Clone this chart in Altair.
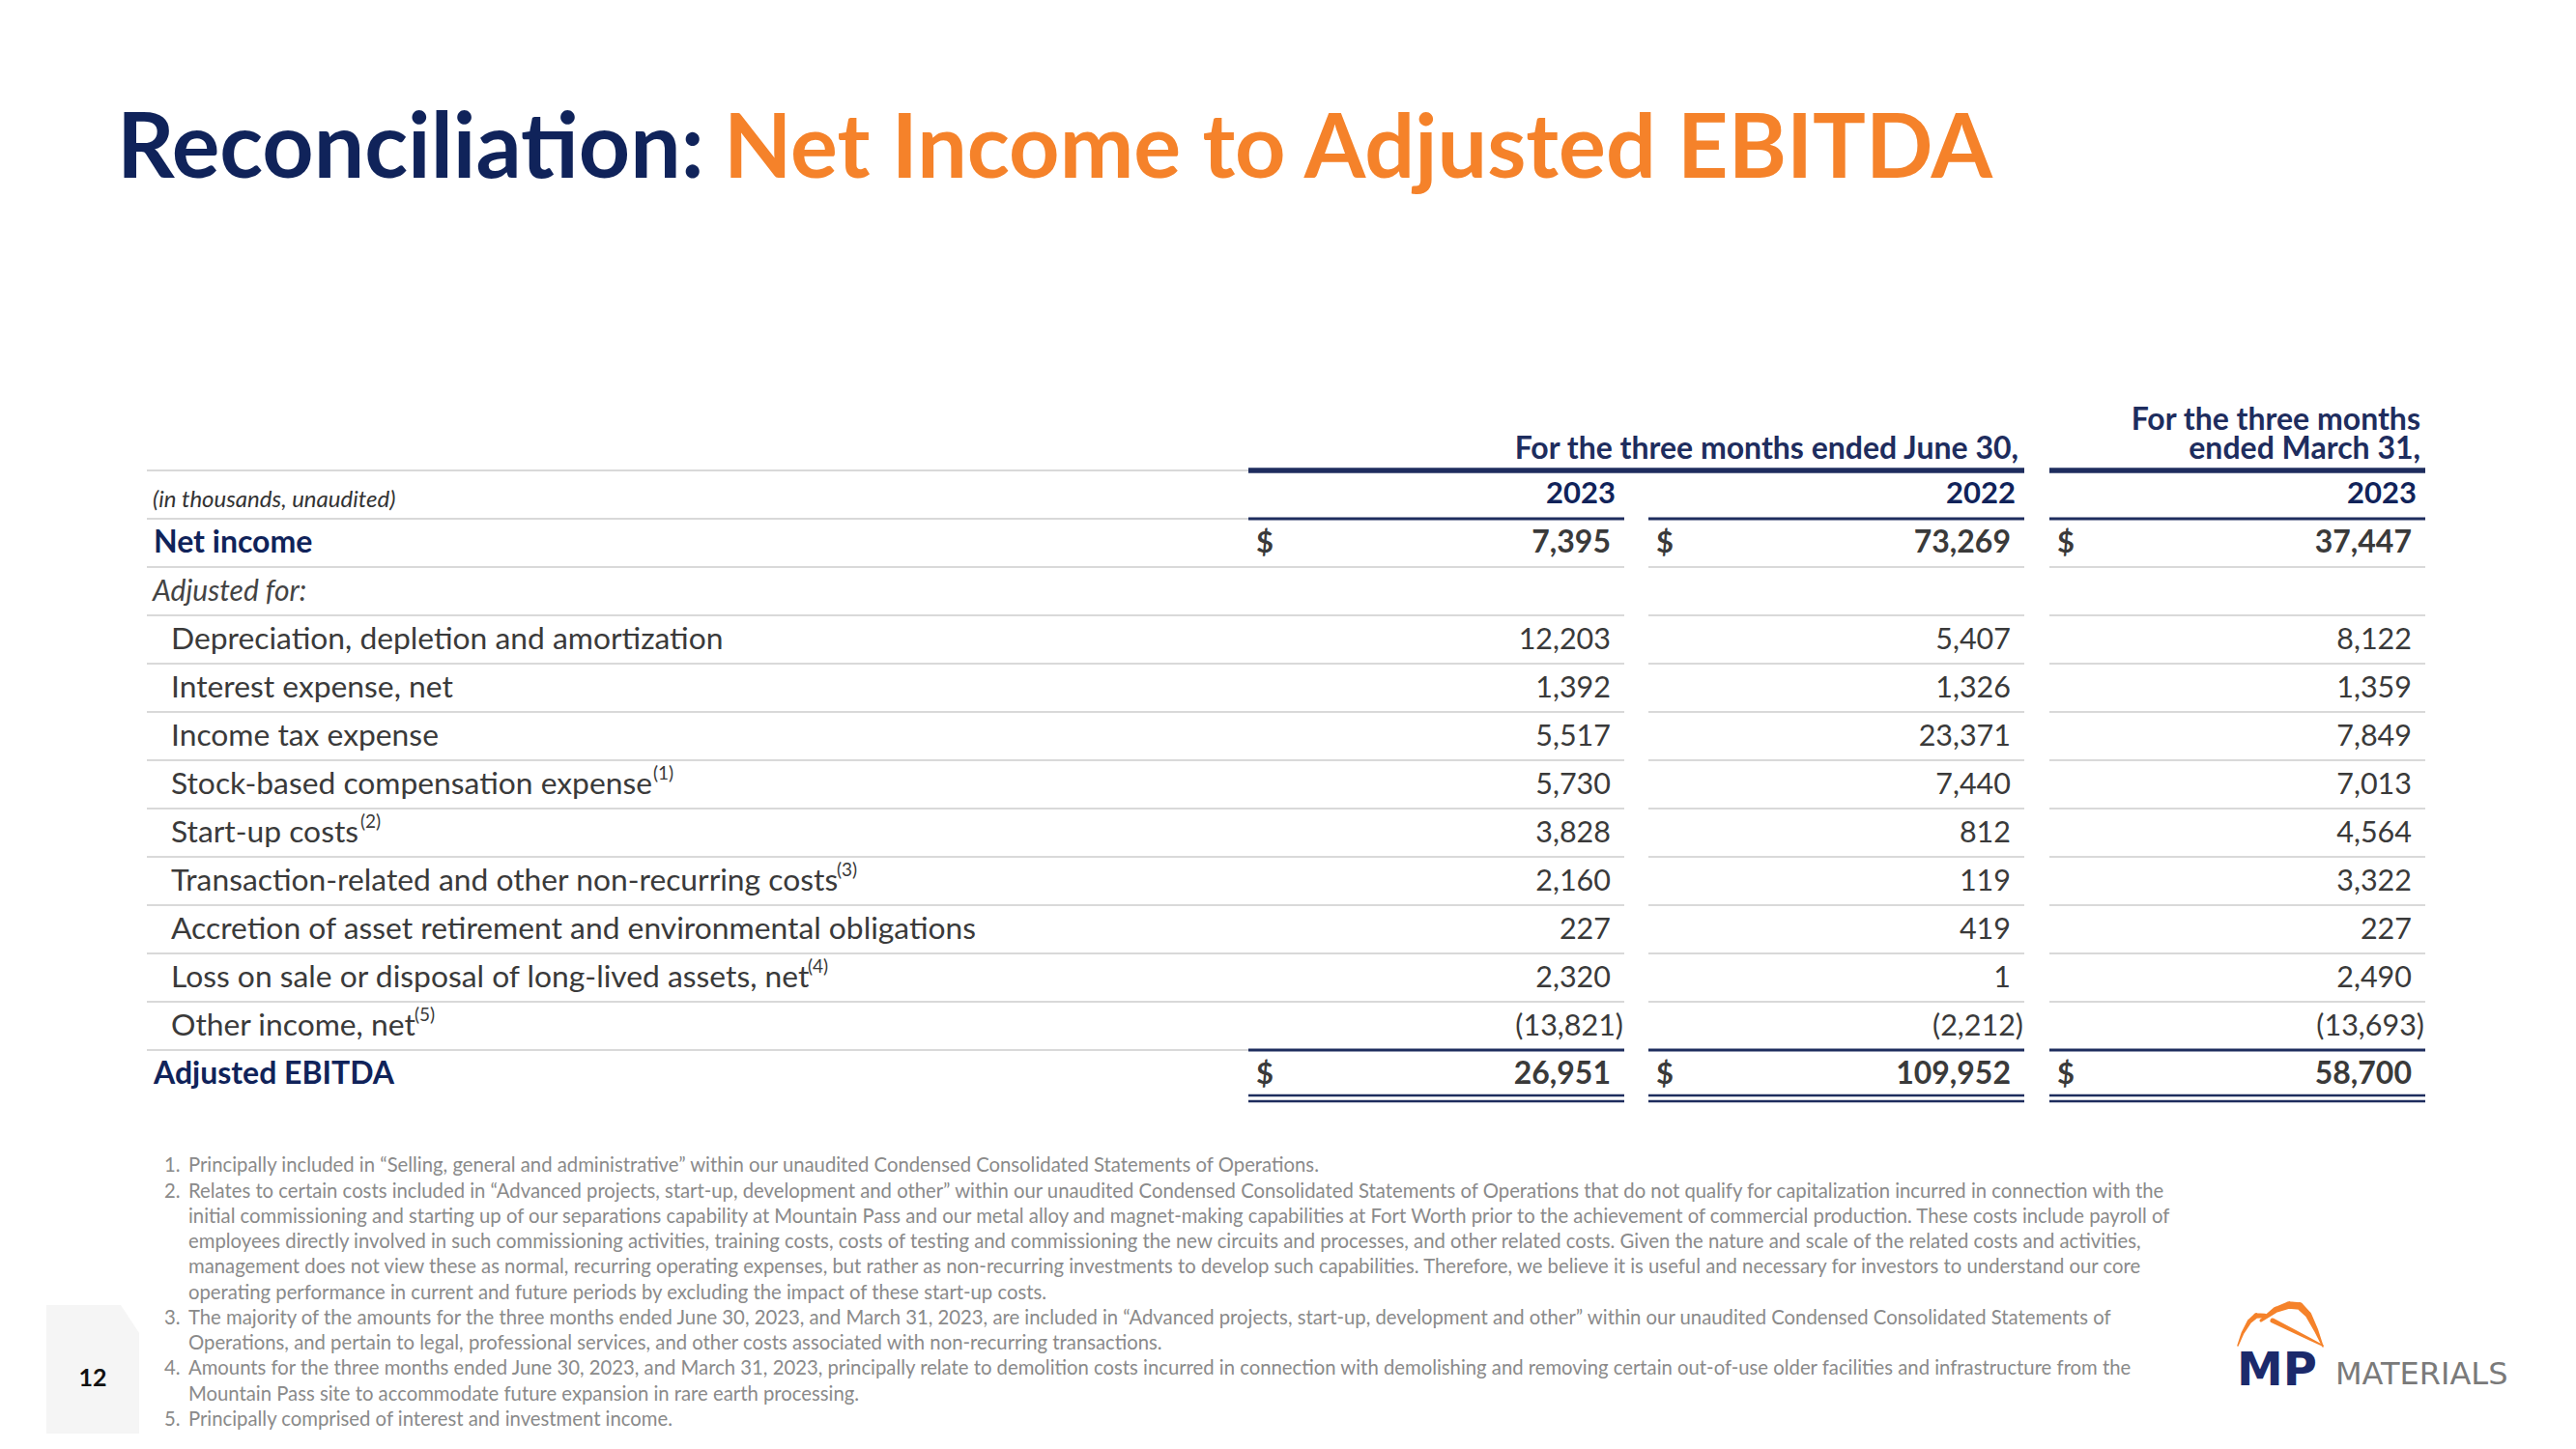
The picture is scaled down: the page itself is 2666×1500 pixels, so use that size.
import altair as alt
import pandas as pd

# ---------------- data ----------------
title_left = "Reconciliation:"
title_right = "Net Income to Adjusted EBITDA"
units_note = "(in thousands, unaudited)"
header_q2 = "For the three months ended June 30,"
header_q1 = ["For the three months", "ended March 31,"]
year_labels = ["2023", "2022", "2023"]

row_labels = [
    "Net income",
    "Adjusted for:",
    "Depreciation, depletion and amortization",
    "Interest expense, net",
    "Income tax expense",
    "Stock-based compensation expense",
    "Start-up costs",
    "Transaction-related and other non-recurring costs",
    "Accretion of asset retirement and environmental obligations",
    "Loss on sale or disposal of long-lived assets, net",
    "Other income, net",
    "Adjusted EBITDA",
]
row_notes = ["", "", "", "", "", "(1)", "(2)", "(3)", "", "(4)", "(5)", ""]
row_kinds = ["total", "section", "item", "item", "item", "item", "item",
             "item", "item", "item", "item", "total"]

q2_2023 = [7395, None, 12203, 1392, 5517, 5730, 3828, 2160, 227, 2320, -13821, 26951]
q2_2022 = [73269, None, 5407, 1326, 23371, 7440, 812, 119, 419, 1, -2212, 109952]
q1_2023 = [37447, None, 8122, 1359, 7849, 7013, 4564, 3322, 227, 2490, -13693, 58700]

footnote_marks = ["1.", "2.", "", "", "", "", "3.", "", "4.", "", "5."]
footnote_lines = [
    "Principally included in \u201cSelling, general and administrative\u201d within our unaudited Condensed Consolidated Statements of Operations.",
    "Relates to certain costs included in \u201cAdvanced projects, start-up, development and other\u201d within our unaudited Condensed Consolidated Statements of Operations that do not qualify for capitalization incurred in connection with the",
    "initial commissioning and starting up of our separations capability at Mountain Pass and our metal alloy and magnet-making capabilities at Fort Worth prior to the achievement of commercial production. These costs include payroll of",
    "employees directly involved in such commissioning activities, training costs, costs of testing and commissioning the new circuits and processes, and other related costs. Given the nature and scale of the related costs and activities,",
    "management does not view these as normal, recurring operating expenses, but rather as non-recurring investments to develop such capabilities. Therefore, we believe it is useful and necessary for investors to understand our core",
    "operating performance in current and future periods by excluding the impact of these start-up costs.",
    "The majority of the amounts for the three months ended June 30, 2023, and March 31, 2023, are included in \u201cAdvanced projects, start-up, development and other\u201d within our unaudited Condensed Consolidated Statements of",
    "Operations, and pertain to legal, professional services, and other costs associated with non-recurring transactions.",
    "Amounts for the three months ended June 30, 2023, and March 31, 2023, principally relate to demolition costs incurred in connection with demolishing and removing certain out-of-use older facilities and infrastructure from the",
    "Mountain Pass site to accommodate future expansion in rare earth processing.",
    "Principally comprised of interest and investment income.",
]
page_number = "12"
brand_mark = "MP"
brand_word = "MATERIALS"

# ---------------- layout / style ----------------
W, H = 2640, 1476
OX, OY = 8, 8
FONT = "Lato, 'DejaVu Sans', sans-serif"
NAVY = "#10235a"
HNAVY = "#1e2d5e"
ORANGE = "#f5822a"
GRAYLINE = "#d9d9d9"
BODY = "#3a3a3a"
FOOT = "#8a8a8a"

xsc = alt.Scale(domain=[OX, OX + W], nice=False, zero=False)
ysc = alt.Scale(domain=[OY, OY + H], reverse=True, nice=False, zero=False)


def pos(**extra):
    e = dict(x=alt.X("x:Q", scale=xsc, axis=None),
             y=alt.Y("y:Q", scale=ysc, axis=None))
    e.update(extra)
    return e


def text_layer(rows, font=FONT, **mark):
    df = pd.DataFrame(rows, columns=["x", "y", "t"])
    return alt.Chart(df).mark_text(baseline="alphabetic", font=font, **mark).encode(
        **pos(text="t:N"))


col_left = [1292, 1706, 2121]
col_right = [1681, 2095, 2510]
row_top0 = 537
row_h = 50
label_x = {"total": 159, "section": 158, "item": 177}
# x where each footnote superscript starts (end of the label text)
note_x = [0, 0, 0, 0, 0, 676, 373, 866, 0, 836, 429, 0]


def baseline(r):
    return row_top0 + row_h * r + 34.5


def fmt(v):
    return f"({-v:,})" if v < 0 else f"{v:,}"


layers = []

# page-number tab
tab = pd.DataFrame({"x": [48, 125, 144], "y": [1351, 1351, 1380], "y2": [OY + H] * 3})
layers.append(alt.Chart(tab).mark_area(color="#f5f5f5").encode(**pos(y2="y2:Q")))

# rules
rules = []
rules += [(152, 1292, 487, GRAYLINE, 2), (1292, 2095, 487, HNAVY, 5.5), (2121, 2510, 487, HNAVY, 5.5)]
rules += [(152, 1292, 537, GRAYLINE, 2)] + [(l, r, 537, HNAVY, 3) for l, r in zip(col_left, col_right)]
for k in range(10):
    yy = 587 + row_h * k
    rules += [(152, 1292, yy, GRAYLINE, 2)] + [(l, r, yy, GRAYLINE, 2) for l, r in zip(col_left, col_right)]
rules += [(152, 1292, 1087, GRAYLINE, 2)] + [(l, r, 1087, HNAVY, 3) for l, r in zip(col_left, col_right)]
for yy in (1134, 1140):
    rules += [(l, r, yy, HNAVY, 2.5) for l, r in zip(col_left, col_right)]
rdf = pd.DataFrame(rules, columns=["x", "x2", "y", "c", "w"])
layers.append(alt.Chart(rdf).mark_rule(strokeCap="butt").encode(
    **pos(x2="x2:Q", color=alt.Color("c:N", scale=None),
          strokeWidth=alt.StrokeWidth("w:Q", scale=None))))

# title
layers.append(text_layer([(121, 184, title_left)], fontSize=93, fontWeight="bold", color=NAVY, align="left"))
layers.append(text_layer([(749, 184, title_right)], fontSize=91.5, fontWeight="bold", color=ORANGE, align="left"))

# headers
layers.append(text_layer([(2089, 475, header_q2)], fontSize=32, fontWeight="bold", color=HNAVY, align="right"))
layers.append(text_layer([(2505, 445, "\n".join(header_q1))], fontSize=32, fontWeight="bold",
                         color=HNAVY, align="right", lineBreak="\n", lineHeight=30))
layers.append(text_layer([(r - 9, 521, y) for r, y in zip(col_right, year_labels)],
                         fontSize=31, fontWeight="bold", color=NAVY, align="right"))
layers.append(text_layer([(158, 525, units_note)], fontSize=24, fontStyle="italic", color="#333333", align="left"))

# row labels
for kind, style in [("total", dict(fontWeight="bold", color=NAVY, fontSize=32)),
                    ("section", dict(fontStyle="italic", color="#444444", fontSize=30)),
                    ("item", dict(color=BODY, fontSize=31.8))]:
    rows = [(label_x[kind], baseline(i), lab) for i, (lab, k) in enumerate(zip(row_labels, row_kinds)) if k == kind]
    layers.append(text_layer(rows, align="left", **style))

# footnote superscripts
sups = [(note_x[i], baseline(i) - 15, n) for i, n in enumerate(row_notes) if n]
layers.append(text_layer(sups, fontSize=19, color=BODY, align="left"))

# values
bold_vals, reg_vals, dollars = [], [], []
for j, series in enumerate([q2_2023, q2_2022, q1_2023]):
    for i, v in enumerate(series):
        if v is None:
            continue
        xr = col_right[j] - (1 if v < 0 else 14)
        item = (xr, baseline(i), fmt(v))
        if row_kinds[i] == "total":
            bold_vals.append(item)
            dollars.append((col_left[j] + 8, baseline(i), "$"))
        else:
            reg_vals.append(item)
layers.append(text_layer(reg_vals, fontSize=30.5, color=BODY, align="right"))
layers.append(text_layer(bold_vals, fontSize=32, fontWeight="bold", color=BODY, align="right"))
layers.append(text_layer(dollars, fontSize=31, fontWeight="bold", color=BODY, align="left"))

# footnotes
fb = [1213.3 + 26.27 * i for i in range(len(footnote_lines))]
layers.append(text_layer([(170, b, m) for b, m in zip(fb, footnote_marks) if m],
                         fontSize=20.3, color=FOOT, align="left"))
layers.append(text_layer([(195, b, t) for b, t in zip(fb, footnote_lines)],
                         fontSize=20.3, color=FOOT, align="left"))

# page number
layers.append(text_layer([(96, 1435, page_number)], fontSize=25, fontWeight="bold", color="#111111", align="center"))

# logo
sw = pd.DataFrame(
    [("a", 0, 2316, 1393, 1.5), ("a", 1, 2321, 1380, 3), ("a", 2, 2328, 1368, 4.5), ("a", 3, 2335, 1362, 5.5), ("a", 4, 2344, 1362, 4.5),
     ("b", 0, 2340, 1367, 3), ("b", 1, 2355, 1356, 6), ("b", 2, 2369, 1351, 7.5), ("b", 3, 2380, 1352, 7.5),
     ("b", 4, 2389, 1361, 6.5), ("b", 5, 2397, 1377, 4.5), ("b", 6, 2404, 1394, 1.5),
     ("c", 0, 2352, 1367, 5), ("c", 1, 2372, 1377, 4), ("c", 2, 2390, 1386, 3), ("c", 3, 2404, 1393, 1.5)],
    columns=["stroke", "i", "x", "y", "s"])
layers.append(alt.Chart(sw).mark_trail(color=ORANGE).encode(
    **pos(size=alt.Size("s:Q", scale=None, legend=None), detail="stroke:N", order="i:Q")))
layers.append(text_layer([(2315, 1434, brand_mark)], font="'DejaVu Sans'", fontSize=48,
                         fontWeight="bold", color="#1c2a6b", align="left"))
layers.append(text_layer([(2417, 1433, brand_word)], font="'DejaVu Sans'", fontSize=32,
                         color="#7a7a7a", align="left"))

chart = alt.layer(*layers).properties(
    width=W, height=H, padding=0,
    autosize=alt.AutoSizeParams(type="none"),
    background="white",
).configure_view(stroke=None)

chart.save("out.html", embed_options={"renderer": "svg", "actions": False})
